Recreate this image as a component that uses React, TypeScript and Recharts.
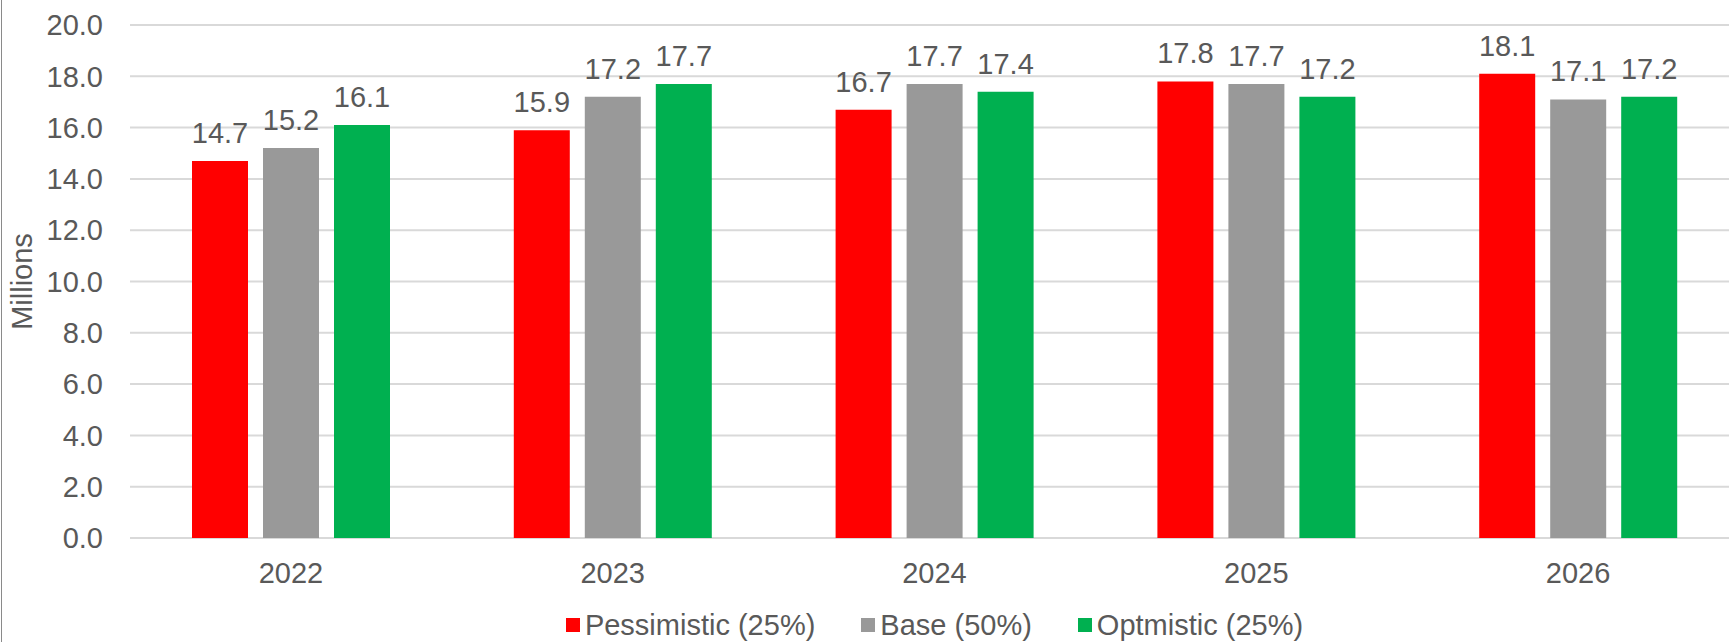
import React from "react";
import { BarChart, Bar, XAxis, YAxis, CartesianGrid, Legend, LabelList, Label } from "recharts";

const years = ["2022", "2023", "2024", "2025", "2026"];
const pessimistic = [14.7, 15.9, 16.7, 17.8, 18.1];
const base = [15.2, 17.2, 17.7, 17.7, 17.1];
const optimistic = [16.1, 17.7, 17.4, 17.2, 17.2];
const yTicks = [0, 2, 4, 6, 8, 10, 12, 14, 16, 18, 20];

const SERIES = [
  { key: "pessimistic", name: "Pessimistic (25%)", color: "#FF0000" },
  { key: "base", name: "Base (50%)", color: "#999999" },
  { key: "optimistic", name: "Optmistic (25%)", color: "#00B050" },
];

const FONT = "'Liberation Sans', Arial, sans-serif";
const TEXT = "#595959";
const FS = 29;

const data = years.map((year, i) => ({
  year,
  pessimistic: pessimistic[i],
  base: base[i],
  optimistic: optimistic[i],
}));

function LegendContent() {
  return (
    <div style={{ display: "flex", justifyContent: "center", alignItems: "center", height: 40, fontFamily: FONT }}>
      {SERIES.map((s, i) => (
        <div key={s.key} style={{ display: "flex", alignItems: "center", marginLeft: i === 0 ? 0 : 46 }}>
          <span style={{ width: 14, height: 14, background: s.color, display: "inline-block", marginRight: 5 }} />
          <span style={{ fontSize: FS, color: TEXT, lineHeight: "40px" }}>{s.name}</span>
        </div>
      ))}
    </div>
  );
}

export default function App() {
  const fmt = (v: any) => Number(v).toFixed(1);
  return (
    <div style={{ position: "fixed", left: 0, top: 0, width: 1729, height: 642, overflow: "hidden", background: "#fff" }}>
      <div style={{ position: "absolute", left: 1, top: 0, width: 1, height: 642, background: "#8a8a8a" }} />
      <BarChart
        width={1745}
        height={660}
        data={data}
        margin={{ top: 25, right: 6, bottom: 15, left: 0 }}
        barSize={56}
        barGap={15}
        style={{ fontFamily: FONT }}
      >
        <CartesianGrid vertical={false} stroke="#d9d9d9" strokeWidth={2} />
        <XAxis
          dataKey="year"
          axisLine={false}
          tickLine={false}
          tickSize={0}
          tickMargin={24}
          height={67}
          tick={{ fill: TEXT, fontSize: FS }}
        />
        <YAxis
          domain={[0, 20]}
          ticks={yTicks}
          tickFormatter={fmt}
          axisLine={false}
          tickLine={false}
          tickSize={0}
          tickMargin={27}
          width={130}
          tick={{ fill: TEXT, fontSize: FS }}
        >
          <Label
            value="Millions"
            angle={-90}
            position="insideLeft"
            offset={22}
            style={{ textAnchor: "middle", fill: TEXT, fontSize: FS }}
          />
        </YAxis>
        <Legend
          verticalAlign="bottom"
          content={<LegendContent />}
          wrapperStyle={{ left: 130, width: 1609, height: 40 }}
        />
        {SERIES.map((s) => (
          <Bar key={s.key} dataKey={s.key} name={s.name} fill={s.color} isAnimationActive={false}>
            <LabelList dataKey={s.key} position="top" offset={18} formatter={fmt} fill={TEXT} fontSize={FS} />
          </Bar>
        ))}
      </BarChart>
    </div>
  );
}
